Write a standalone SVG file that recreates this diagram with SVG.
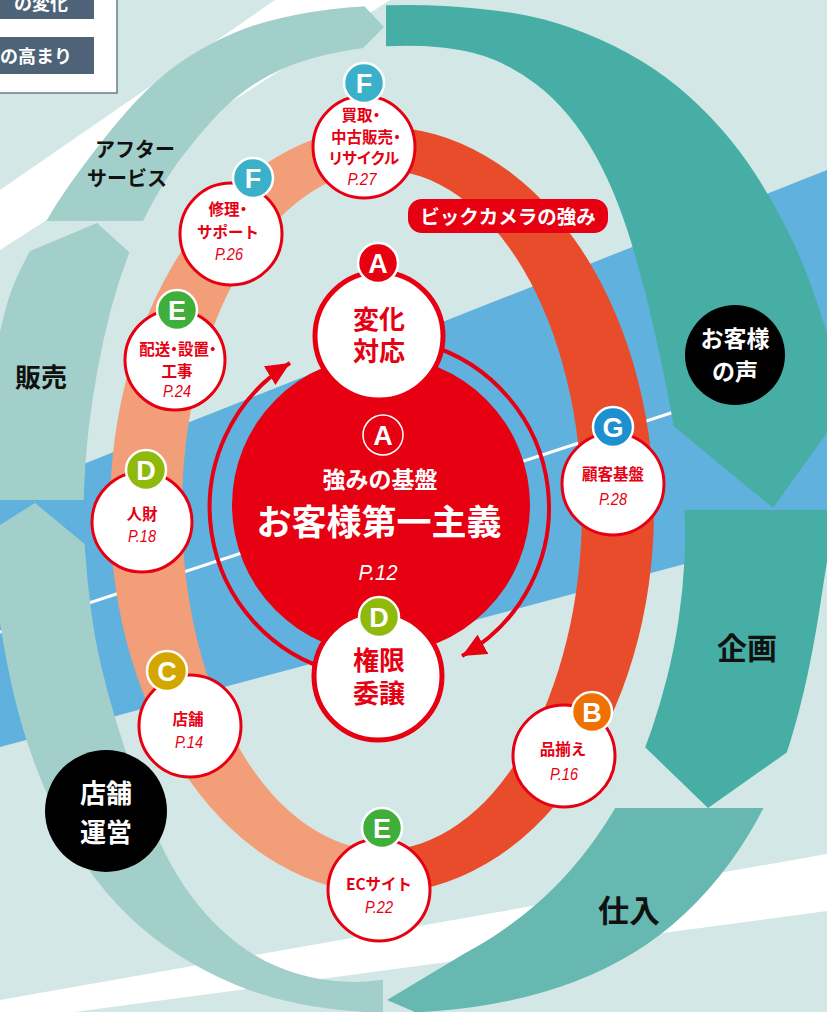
<svg xmlns="http://www.w3.org/2000/svg" xmlns:xlink="http://www.w3.org/1999/xlink" width="827" height="1012" viewBox="0 0 827 1012">
<style>
.jp{font-family:"Noto Sans CJK JP","Noto Sans",sans-serif;font-weight:700}
.nt{font-size:15.5px;fill:#e60012;text-anchor:middle}
.pal{font-feature-settings:"palt" 1}
.bt{font-size:26px}
.pg{font-family:"Liberation Sans",Arial,sans-serif;font-style:italic;font-size:16px;fill:#e60012;text-anchor:middle}
.node{fill:#fff;stroke:#e60012;stroke-width:3}
.big{fill:#fff;stroke:#e60012;stroke-width:5}
.badge{stroke:#fff;stroke-width:2.5}
.bl{font-family:"Liberation Sans",Arial,sans-serif;font-weight:700;font-size:27px;fill:#fff;text-anchor:middle}
.lab{fill:#111;font-weight:700}
.wt{fill:#fff;text-anchor:middle}
</style>
<defs>
<path id="ring" fill-rule="evenodd" d="M370,6 Q410,4 445,6 Q480,8 510,12.5 Q540,17 570,27.5 Q600,38 627.5,53 Q655,68 677.5,86.5 Q700,105 720,127.5 Q740,150 756,175 Q772,200 786,227.5 Q800,255 811,285 Q822,315 831,347.5 Q840,380 841.5,410 Q843,440 840.5,470 Q838,500 832.5,530 Q827,560 821,600 Q815,640 807.5,675 Q800,710 790,742.5 Q780,775 765,805 Q750,835 730,862.5 Q710,890 685,913.5 Q660,937 632.5,953.5 Q605,970 575,981.5 Q545,993 510,1000.5 Q475,1008 437.5,1011 Q400,1014 365,1012 Q330,1010 297.5,1003.5 Q265,997 235,984.5 Q205,972 177.5,954.5 Q150,937 127.5,915 Q105,893 86.5,866.5 Q68,840 54,810 Q40,780 29,747.5 Q18,715 10.5,680 Q3,645 -2,610 Q-7,575 -9.5,540 Q-12,505 -11,470 Q-10,435 -8,397.5 Q-6,360 1,327.5 Q8,295 19,272.5 Q30,250 42.5,227.5 Q55,205 70,184 Q85,163 105,137.5 Q125,112 145,92 Q165,72 187.5,57.5 Q210,43 235,32.5 Q260,22 295,15 Q330,8 370,6 Z M375,47 Q400,45 422.5,46 Q445,47 465,51 Q485,55 502.5,63.5 Q520,72 536.5,84.5 Q553,97 568,115 Q583,133 595.5,155.5 Q608,178 618,204 Q628,230 636.5,260 Q645,290 652.5,322.5 Q660,355 666.5,387.5 Q673,420 677.5,450 Q682,480 684,505 Q686,530 684.5,560 Q683,590 678.5,620 Q674,650 667,677.5 Q660,705 651.5,730 Q643,755 630.5,780 Q618,805 603,827.5 Q588,850 571.5,869 Q555,888 536.5,904 Q518,920 498,933.5 Q478,947 456.5,957 Q435,967 412.5,973.5 Q390,980 366.5,981.5 Q343,983 320,979 Q297,975 276,966 Q255,957 237.5,943.5 Q220,930 205,913 Q190,896 177.5,875.5 Q165,855 154.5,830 Q144,805 134.5,777.5 Q125,750 116.5,722.5 Q108,695 101.5,667.5 Q95,640 91,610 Q87,580 85,550 Q83,520 84,490 Q85,460 88.5,430 Q92,400 97.5,370 Q103,340 110.5,311 Q118,282 129,253.5 Q140,225 154,200 Q168,175 183,155.5 Q198,136 213,119.5 Q228,103 245,90.5 Q262,78 281,69.5 Q300,61 325,55 Q350,49 375,47 Z"/>
<clipPath id="c1"><polygon points="400,520 160,221 -100,221 -100,-100 350,-100 350,-9 384,27 345,66"/></clipPath>
<clipPath id="c2"><polygon points="400,520 386,70 386,-100 900,-100 900,330 880,359 773,508 660,415"/></clipPath>
<clipPath id="c3"><polygon points="400,520 650,510 900,510 900,690 840,715 708,808 620,723"/></clipPath>
<clipPath id="c4"><polygon points="400,520 600,808 900,808 900,1100 560,1100 480,1040 387,1000 487,940 480,900"/></clipPath>
<clipPath id="c5"><polygon points="400,520 383,960 383,1100 -100,1100 -100,588 35,503 110,565"/></clipPath>
<clipPath id="c6"><polygon points="400,520 100,500 -100,500 -100,305 -20,272 97,223 150,271"/></clipPath>
<marker id="ah" markerUnits="userSpaceOnUse" markerWidth="26" markerHeight="22" refX="24" refY="11" orient="auto"><path d="M0,0 L24,11 L0,22 Z" fill="#e60012"/></marker>
</defs>

<g id="background">
<rect width="827" height="1012" fill="#d3e8e6"/>
<polygon points="0,190 275,0 390,0 0,250" fill="#fff"/>
<polygon points="0,1000 827,854 827,911 0,1022" fill="#fff"/>
<polygon points="0,497 827,170 827,526 0,747" fill="#60b1dd"/>
<line x1="0" y1="632" x2="827" y2="362" stroke="#fff" stroke-width="3"/>
</g>

<g id="cycle">
<g id="after-service"><use xlink:href="#ring" href="#ring" fill="#a3cfca" clip-path="url(#c1)"/>
<text class="jp lab" font-size="20"><tspan x="95" y="157">アフター</tspan><tspan x="87" y="186">サービス</tspan></text></g>
<g id="customer-voice"><use xlink:href="#ring" href="#ring" fill="#47aea6" clip-path="url(#c2)"/></g>
<g id="planning"><use xlink:href="#ring" href="#ring" fill="#47aea6" clip-path="url(#c3)"/>
<text class="jp lab" x="717" y="659" font-size="30">企画</text></g>
<g id="purchasing"><use xlink:href="#ring" href="#ring" fill="#66b8b1" clip-path="url(#c4)"/>
<text class="jp lab" x="598" y="922" font-size="31">仕入</text></g>
<g id="store-ops-arc"><use xlink:href="#ring" href="#ring" fill="#a3cfca" clip-path="url(#c5)"/></g>
<g id="sales"><use xlink:href="#ring" href="#ring" fill="#a3cfca" clip-path="url(#c6)"/>
<text class="jp lab" x="15" y="387" font-size="26">販売</text></g>
<g id="voice-circle"><circle cx="735" cy="355" r="50" fill="#000"/>
<text class="jp wt" font-size="23"><tspan x="735" y="347">お客様</tspan><tspan x="735" y="380">の声</tspan></text></g>
<g id="store-ops"><circle cx="106" cy="811" r="61" fill="#000"/>
<text class="jp wt" font-size="26" font-weight="500"><tspan x="106" y="803">店舗</tspan><tspan x="106" y="842">運営</tspan></text></g>
</g>

<g id="strength-ring">
<path d="M382,127 A272,383 0 0 0 382,893 L382,850 A200,340 0 0 1 382,170 Z" fill="#f29e79"/>
<path d="M382,127 A272,383 0 0 1 382,893 L382,850 A200,340 0 0 0 382,170 Z" fill="#e84c2b"/>
</g>

<g id="strength-label">
<rect x="408" y="199" width="200" height="34" rx="14" fill="#e60012"/>
<text class="jp wt" x="508" y="224" font-size="19.5">ビックカメラの強み</text>
</g>

<g id="connectors" fill="none" stroke="#e60012" stroke-width="4">
<path d="M337,672 A170,170 0 0 1 290,363" marker-end="url(#ah)"/>
<path d="M425,344 A170,170 0 0 1 462,656" marker-end="url(#ah)"/>
</g>

<g id="core">
<circle cx="381" cy="505" r="149" fill="#e60012"/>
<circle cx="383" cy="435" r="20" fill="none" stroke="#fff" stroke-width="1.5"/>
<text class="bl" x="383" y="445" font-size="28">A</text>
<text class="jp wt" x="380" y="488" font-size="23">強みの基盤</text>
<text class="jp wt" x="379" y="535" font-size="35">お客様第一主義</text>
<text x="378" y="580" font-family="Liberation Sans,Arial,sans-serif" font-style="italic" font-size="22" fill="#fff" text-anchor="middle" textLength="39" lengthAdjust="spacingAndGlyphs">P.12</text>
</g>

<g id="node-henka">
<circle class="big" cx="379" cy="336" r="64"/>
<circle class="badge" cx="378" cy="263" r="20" fill="#e60012"/>
<text class="bl" x="378" y="273">A</text>
<text class="jp nt bt"><tspan x="379" y="329">変化</tspan><tspan x="379" y="361">対応</tspan></text>
</g>

<g id="node-kengen">
<circle class="big" cx="378" cy="676" r="64"/>
<circle class="badge" cx="379" cy="617" r="20" fill="#8fba0c"/>
<text class="bl" x="379" y="627">D</text>
<text class="jp nt bt"><tspan x="379" y="670">権限</tspan><tspan x="379" y="703">委譲</tspan></text>
</g>

<g id="node-kaitori">
<circle class="node" cx="364" cy="147" r="51"/>
<circle class="badge" cx="364" cy="83" r="20" fill="#3bb0c9"/>
<text class="bl" x="364" y="93">F</text>
<text class="jp nt pal"><tspan x="361" y="121">買取・</tspan><tspan x="366" y="143">中古販売・</tspan><tspan x="364" y="164">リサイクル</tspan></text>
<text class="pg" x="362" y="185" textLength="29" lengthAdjust="spacingAndGlyphs">P.27</text>
</g>

<g id="node-shuri">
<circle class="node" cx="231" cy="234" r="51"/>
<circle class="badge" cx="253" cy="178" r="20" fill="#3bb0c9"/>
<text class="bl" x="253" y="188">F</text>
<text class="jp nt pal"><tspan x="228" y="215">修理・</tspan><tspan x="228" y="238" style="font-feature-settings:normal">サポート</tspan></text>
<text class="pg" x="229" y="260" textLength="28" lengthAdjust="spacingAndGlyphs">P.26</text>
</g>

<g id="node-haisou">
<circle class="node" cx="175" cy="360" r="50"/>
<circle class="badge" cx="177" cy="310" r="20" fill="#3fae3a"/>
<text class="bl" x="177" y="320">E</text>
<text class="jp nt pal"><tspan x="178" y="355">配送・設置・</tspan><tspan x="177" y="377">工事</tspan></text>
<text class="pg" x="177" y="397" textLength="28" lengthAdjust="spacingAndGlyphs">P.24</text>
</g>

<g id="node-jinzai">
<circle class="node" cx="142" cy="522" r="50"/>
<circle class="badge" cx="146" cy="470" r="20" fill="#8fba0c"/>
<text class="bl" x="146" y="480">D</text>
<text class="jp nt" x="142" y="520">人財</text>
<text class="pg" x="142" y="542" textLength="28" lengthAdjust="spacingAndGlyphs">P.18</text>
</g>

<g id="node-tenpo">
<circle class="node" cx="190" cy="726" r="51"/>
<circle class="badge" cx="167" cy="671" r="20" fill="#d4a700"/>
<text class="bl" x="167" y="681">C</text>
<text class="jp nt" x="188" y="725">店舗</text>
<text class="pg" x="189" y="748" textLength="28" lengthAdjust="spacingAndGlyphs">P.14</text>
</g>

<g id="node-ec">
<circle class="node" cx="379" cy="890" r="51"/>
<circle class="badge" cx="382" cy="828" r="20" fill="#3fae3a"/>
<text class="bl" x="382" y="838">E</text>
<text class="jp nt" x="379" y="890">ECサイト</text>
<text class="pg" x="379" y="913" textLength="28" lengthAdjust="spacingAndGlyphs">P.22</text>
</g>

<g id="node-shinazoroe">
<circle class="node" cx="564" cy="756" r="51"/>
<circle class="badge" cx="592" cy="712" r="20" fill="#ee7203"/>
<text class="bl" x="592" y="722">B</text>
<text class="jp nt" x="563" y="755">品揃え</text>
<text class="pg" x="564" y="780" textLength="28" lengthAdjust="spacingAndGlyphs">P.16</text>
</g>

<g id="node-kokyaku">
<circle class="node" cx="613" cy="484" r="51"/>
<circle class="badge" cx="613" cy="427" r="20" fill="#1e90d0"/>
<text class="bl" x="613" y="437">G</text>
<text class="jp nt" x="613" y="480">顧客基盤</text>
<text class="pg" x="613" y="505" textLength="28" lengthAdjust="spacingAndGlyphs">P.28</text>
</g>

<g id="legend">
<rect x="-2" y="-2" width="119" height="95" fill="#fff" stroke="#6b7c8a" stroke-width="1.5"/>
<rect x="0" y="-2" width="94" height="21" fill="#4f6378"/>
<rect x="0" y="37" width="94" height="37" fill="#4f6378"/>
<text class="jp" x="14" y="10" font-size="18" fill="#fff">の変化</text>
<text class="jp" x="0" y="63" font-size="18" fill="#fff">の高まり</text>
</g>
</svg>
